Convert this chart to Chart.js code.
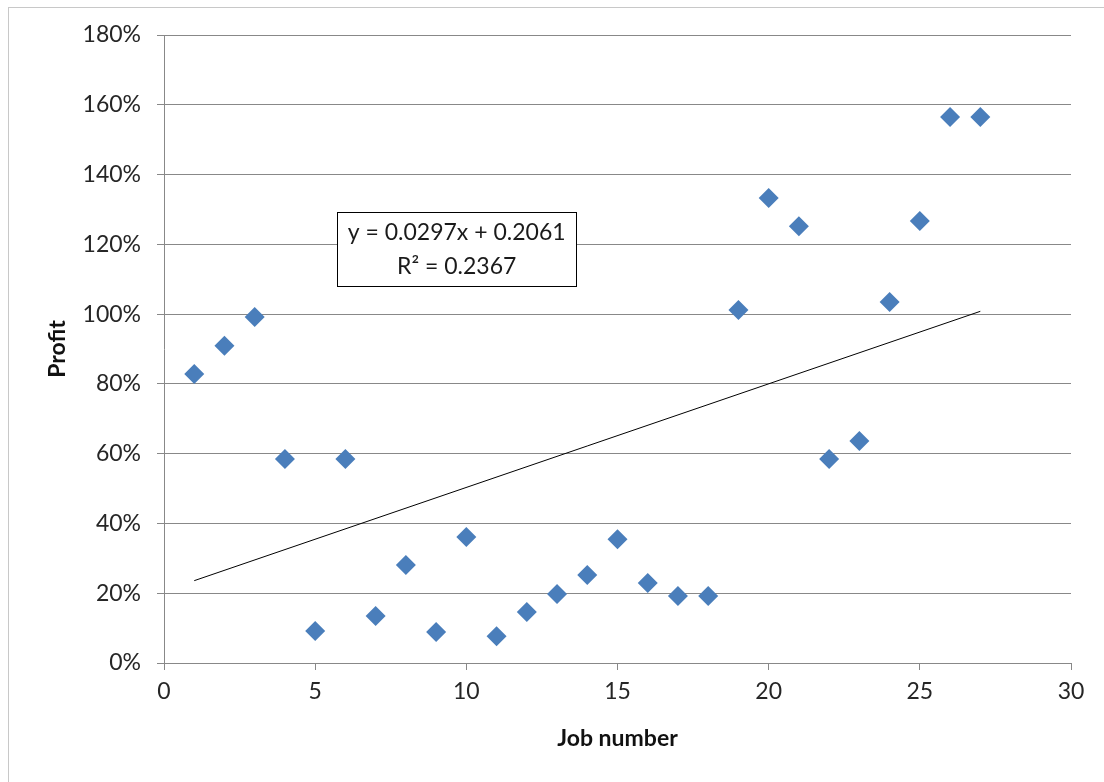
<!DOCTYPE html>
<html>
<head>
<meta charset="utf-8">
<script src="https://cdn.jsdelivr.net/npm/chart.js@4"></script>
<style>
  html, body { margin: 0; padding: 0; background: #fff; }
  #wrap { width: 1104px; height: 782px; }
</style>
</head>
<body>
<div id="wrap"><canvas id="profit_chart" width="1104" height="782"></canvas></div>
<script>
// job numbers and profit (as fraction)
const jobs = [1, 2, 3, 4, 5, 6, 7, 8, 9, 10, 11, 12, 13, 14, 15, 16, 17, 18, 19, 20, 21, 22, 23, 24, 25, 26, 27];
const profit = [0.828, 0.909, 0.992, 0.585, 0.092, 0.585, 0.135, 0.281, 0.089, 0.361, 0.077, 0.146, 0.198,
  0.252, 0.355, 0.229, 0.192, 0.192, 1.012, 1.333, 1.252, 0.585, 0.636, 1.035, 1.267, 1.565, 1.565];

// linear trendline end points (x = 1 and x = 27)
const trendX = [1, 27];
const trendY = [0.236, 1.008];
const trendText = ["y = 0.0297x + 0.2061", "R\u00b2 = 0.2367"];

const xTicks = [0, 5, 10, 15, 20, 25, 30];
const yTicks = [0, 0.2, 0.4, 0.6, 0.8, 1.0, 1.2, 1.4, 1.6, 1.8];

const FONT = "Lato, 'Open Sans', sans-serif";
const GRID = "#888888";

const frame = {
  id: "frame",
  beforeDraw(chart) {
    const ctx = chart.ctx;
    ctx.save();
    ctx.fillStyle = "#fff";
    ctx.fillRect(0, 0, chart.width, chart.height);
    ctx.strokeStyle = "#c8c8c8";
    ctx.lineWidth = 1;
    ctx.strokeRect(8.5, 7.5, chart.width, chart.height);
    ctx.restore();
  }
};

const trendLabel = {
  id: "trendLabel",
  afterDatasetsDraw(chart) {
    const ctx = chart.ctx;
    const sx = chart.scales.x, sy = chart.scales.y;
    const cx = sx.getPixelForValue(9.68);
    const cy = sy.getPixelForValue(1.187);
    const w = 239, h = 74;
    ctx.save();
    ctx.fillStyle = "#fff";
    ctx.fillRect(cx - w / 2, cy - h / 2, w, h);
    ctx.strokeStyle = "#000";
    ctx.lineWidth = 1;
    ctx.strokeRect(Math.round(cx - w / 2) + 0.5, Math.round(cy - h / 2) + 0.5, w, h);
    ctx.fillStyle = "#1a1a1a";
    ctx.font = "23px " + FONT;
    ctx.textAlign = "center";
    ctx.textBaseline = "middle";
    ctx.fillText(trendText[0], cx, cy - 16);
    ctx.fillText(trendText[1], cx, cy + 18);
    ctx.restore();
  }
};

new Chart("profit_chart", {
  type: "scatter",
  data: {
    datasets: [
      {
        label: "Profit",
        data: jobs.map((j, i) => ({ x: j, y: profit[i] })),
        pointStyle: "rectRot",
        pointRadius: 10,
        pointHoverRadius: 10,
        backgroundColor: "#4A7EBB",
        borderColor: "#4A7EBB",
        borderWidth: 0,
        order: 1
      },
      {
        label: "Trend",
        type: "line",
        data: trendX.map((x, i) => ({ x: x, y: trendY[i] })),
        borderColor: "#000",
        borderWidth: 1,
        pointRadius: 0,
        fill: false,
        order: 2
      }
    ]
  },
  options: {
    responsive: false,
    animation: false,
    layout: { autoPadding: false, padding: { left: 8, top: 35, right: 33, bottom: 8 } },
    plugins: { legend: { display: false }, tooltip: { enabled: false } },
    scales: {
      x: {
        type: "linear",
        min: 0,
        max: 30,
        afterFit(scale) { scale.height = 111; },
        afterBuildTicks(scale) { scale.ticks = xTicks.map(v => ({ value: v })); },
        border: { display: true, color: GRID, width: 1 },
        grid: { display: true, drawOnChartArea: false, drawTicks: true, tickLength: 7, color: GRID },
        ticks: { color: "#262626", font: { family: FONT, size: 23 }, padding: 8 },
        title: {
          display: true,
          text: "Job number",
          color: "#111",
          font: { family: FONT, size: 23, weight: "bold" },
          padding: { top: 0, bottom: 22 }
        }
      },
      y: {
        type: "linear",
        min: 0,
        max: 1.8,
        afterFit(scale) { scale.width = 156; },
        afterBuildTicks(scale) { scale.ticks = yTicks.map(v => ({ value: v })); },
        border: { display: true, color: GRID, width: 1 },
        grid: { display: true, drawOnChartArea: true, drawTicks: true, tickLength: 7, color: GRID, lineWidth: 1 },
        ticks: {
          color: "#262626",
          font: { family: FONT, size: 23 },
          padding: 16,
          callback: v => Math.round(v * 100) + "%"
        },
        title: {
          display: true,
          text: "Profit",
          color: "#111",
          font: { family: FONT, size: 23, weight: "bold" },
          padding: { top: 36, bottom: 0 }
        }
      }
    }
  },
  plugins: [frame, trendLabel]
});
</script>
</body>
</html>
